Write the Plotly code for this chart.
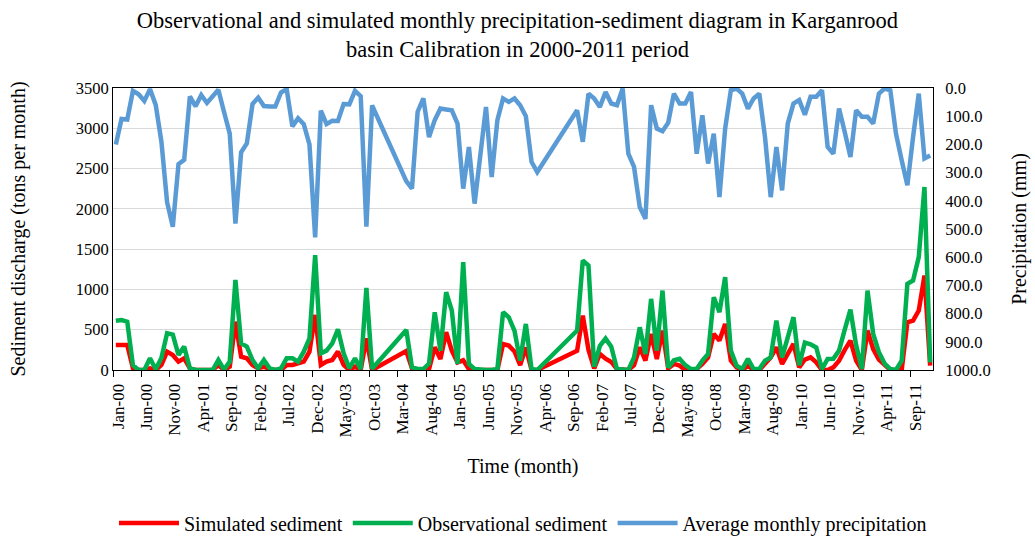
import plotly.graph_objects as go

# ---------------- data ----------------
years = list(range(2000, 2012))
month_names = ["Jan", "Feb", "Mar", "Apr", "May", "Jun",
               "Jul", "Aug", "Sep", "Oct", "Nov", "Dec"]
months = [f"{m}-{str(y)[2:]}" for y in years for m in month_names]

tick_labels = ["Jan-00", "Jun-00", "Nov-00", "Apr-01", "Sep-01", "Feb-02", "Jul-02",
               "Dec-02", "May-03", "Oct-03", "Mar-04", "Aug-04", "Jan-05", "Jun-05",
               "Nov-05", "Apr-06", "Sep-06", "Feb-07", "Jul-07", "Dec-07", "May-08",
               "Oct-08", "Mar-09", "Aug-09", "Jan-10", "Jun-10", "Nov-10", "Apr-11",
               "Sep-11"]

N = None
simulated_sediment = [
    311, 311, 311, 21, 0, 0, 20, 0, 62, 228, 186, 104,
    145, 20, 0, 0, 0, 0, 62, 0, 41, 600, 166, 145,
    62, 21, 41, 10, 0, 0, 62, 62, 83, 104, 228, 683,
    62, 104, 124, 228, 62, 0, 41, 0, 393, 0, N, N,
    N, N, N, 235, 20, 0, 0, 12, 282, 137, 468, 240,
    95, 120, 10, 0, 0, 0, 0, 0, 323, 303, 230, 60,
    280, 0, 0, N, N, N, N, N, N, 240, 675, 250,
    20, 199, 140, 100, 12, 0, 0, 60, 282, 116, 448, 137,
    489, 20, 75, 54, 0, 0, 12, 75, 157, 448, 365, 572,
    116, 33, 0, 54, 0, 0, 75, 157, 282, 75, 199, 323,
    33, 130, 157, 95, 0, 0, 33, 116, 250, 365, 116, 0,
    489, 260, 130, 60, 0, 0, 0, 593, 613, 738, 1173, 54,
]

observed_sediment = [
    610, 620, 600, 60, 0, 0, 145, 10, 150, 456, 440, 186,
    290, 20, 0, 0, 0, 0, 124, 5, 104, 1118, 331, 290,
    124, 21, 124, 21, 0, 21, 145, 145, 104, 228, 393, 1425,
    207, 240, 330, 505, 207, 21, 145, 10, 1020, 15, N, N,
    N, N, N, 497, 33, 12, 12, 80, 717, 240, 966, 738,
    75, 1338, 75, 12, 0, 0, 0, 12, 717, 655, 489, 116,
    572, 12, 0, N, N, N, N, N, N, 489, 1359, 1297,
    40, 300, 390, 290, 12, 0, 0, 157, 530, 199, 883, 240,
    986, 30, 120, 140, 60, 12, 12, 116, 199, 903, 717, 1152,
    240, 54, 12, 137, 12, 12, 116, 157, 613, 157, 406, 655,
    60, 340, 320, 280, 12, 137, 140, 240, 500, 750, 310, 12,
    986, 448, 220, 80, 12, 0, 116, 1069, 1111, 1401, 2271, 95,
]

precipitation = [
    200, 110, 112, 10, 22, 46, 4, 60, 190, 405, 492, 270,
    255, 30, 65, 25, 53, 30, 6, 85, 162, 481, 228, 197,
    57, 34, 64, 66, 66, 16, 4, 136, 107, 128, 200, 530,
    80, 128, 116, 117, 57, 58, 10, 29, 492, 62, N, N,
    N, N, N, 330, 357, 84, 37, 174, 114, 73, 76, 79,
    126, 357, 209, 410, 239, 67, 316, 114, 37, 49, 37, 61,
    100, 262, 298, N, N, N, N, N, N, 79, 191, 20,
    37, 67, 14, 55, 61, 2, 233, 280, 422, 464, 61, 144,
    153, 123, 20, 55, 55, 14, 233, 97, 268, 162, 387, 144,
    8, 2, 20, 73, 37, 20, 174, 387, 209, 363, 126, 55,
    43, 95, 31, 31, 8, 209, 233, 73, 156, 245, 79, 102,
    102, 126, 20, 2, 8, 162, 256, 345, 174, 20, 250, 239,
]

# ---------------- figure ----------------
x_pos = list(range(len(months)))
tick_pos = [months.index(t) - 0.5 for t in tick_labels]

FONT = "Liberation Serif"
RED = "#FF0000"
GREEN = "#00B050"
BLUE = "#5B9BD5"

fig = go.Figure()
fig.add_trace(go.Scatter(
    x=x_pos, y=simulated_sediment, name="Simulated sediment", mode="lines",
    line=dict(color=RED, width=4.5), connectgaps=True,
    text=months, hovertemplate="%{text}: %{y}<extra></extra>"))
fig.add_trace(go.Scatter(
    x=x_pos, y=observed_sediment, name="Observational sediment", mode="lines",
    line=dict(color=GREEN, width=4.5), connectgaps=True,
    text=months, hovertemplate="%{text}: %{y}<extra></extra>"))
fig.add_trace(go.Scatter(
    x=x_pos, y=precipitation, name="Average monthly precipitation", mode="lines",
    line=dict(color=BLUE, width=4.5), connectgaps=True, yaxis="y2",
    text=months, hovertemplate="%{text}: %{y}<extra></extra>"))

fig.update_layout(
    width=1035, height=538,
    margin=dict(l=113, r=102, t=88, b=168, autoexpand=False),
    paper_bgcolor="white", plot_bgcolor="white",
    font=dict(family=FONT, size=16, color="black"),
    title=dict(
        text="Observational and simulated monthly precipitation-sediment diagram in Karganrood<br>basin Calibration in 2000-2011 period",
        x=0.5, xanchor="center", xref="container",
        y=0.948, yanchor="top", yref="container",
        font=dict(family=FONT, size=22.5, color="black")),
    xaxis=dict(
        range=[-0.5, len(months) - 0.5],
        tickmode="array", tickvals=tick_pos, ticktext=tick_labels,
        tickangle=-90, ticks="outside", ticklen=6, tickcolor="black",
        ticklabelshift=5,
        showgrid=False, zeroline=False,
        showline=True, linecolor="black", linewidth=1, mirror=True,
        tickfont=dict(family=FONT, size=17, color="black"),
        title=dict(text="Time (month)", standoff=22,
                   font=dict(family=FONT, size=20, color="black")),
    ),
    yaxis=dict(
        range=[0, 3500], dtick=500, tick0=0,
        showgrid=True, gridcolor="#D9D9D9", gridwidth=1,
        zeroline=False, ticks="",
        showline=True, linecolor="black", linewidth=1, mirror=True,
        tickfont=dict(family=FONT, size=16.5, color="black"),
        title=dict(text="Sediment discharge (tons per month)", standoff=44,
                   font=dict(family=FONT, size=20, color="black")),
    ),
    yaxis2=dict(
        overlaying="y", side="right",
        range=[1000, 0], tickmode="linear", tick0=0, dtick=100,
        tickformat=".1f", showgrid=False, zeroline=False,
        ticks="outside", ticklen=8, tickcolor="rgba(0,0,0,0)",
        tickfont=dict(family=FONT, size=16.5, color="black"),
        title=dict(text="Precipitation (mm)", standoff=22,
                   font=dict(family=FONT, size=20, color="black")),
    ),
    legend=dict(
        orientation="h", x=0.5, xanchor="center", xref="paper",
        y=0.028, yanchor="middle", yref="container",
        font=dict(family=FONT, size=20, color="black"),
        bgcolor="rgba(0,0,0,0)", itemwidth=60, tracegroupgap=0,
    ),
    showlegend=True,
)

fig.write_html("out.html")
